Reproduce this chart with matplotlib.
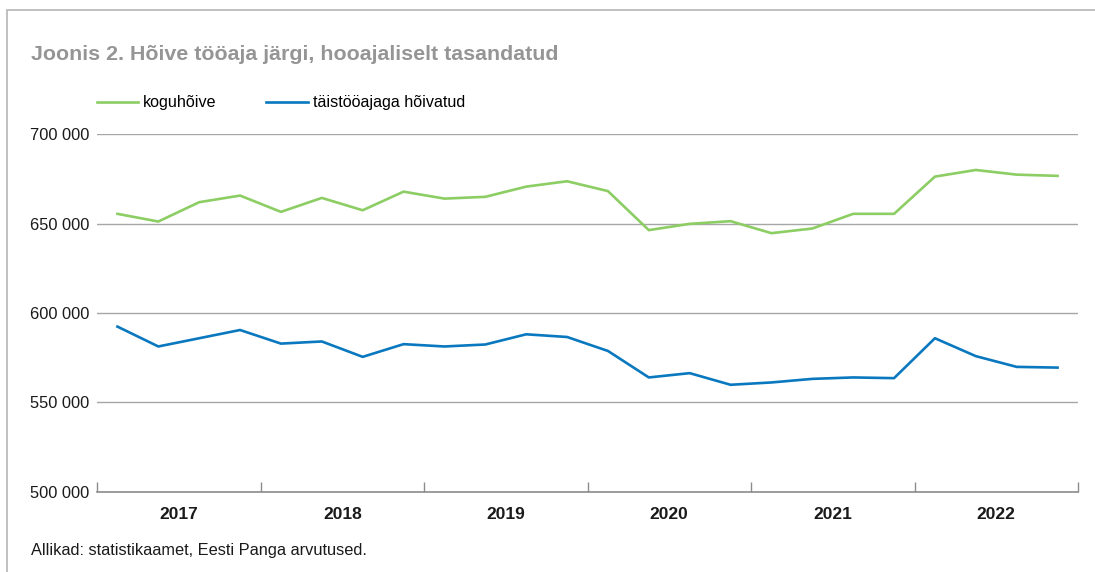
import matplotlib.pyplot as plt
from matplotlib.patches import Rectangle
from matplotlib.ticker import FuncFormatter

plt.rcParams['font.family'] = ['Liberation Sans', 'DejaVu Sans']

years = ['2017', '2018', '2019', '2020', '2021', '2022']
koguhoive = [655400, 651100, 661900, 665600, 656500, 664300, 657400, 667800,
             663900, 664900, 670600, 673600, 668100, 646300, 649800, 651300,
             644600, 647200, 655400, 655400, 676200, 679900, 677300, 676600]
taistooajaga = [592400, 581300, 585900, 590500, 582900, 584100, 575500, 582600,
                581300, 582400, 588100, 586600, 578800, 564000, 566400, 559900,
                561200, 563200, 564000, 563600, 585900, 575900, 569900, 569500]

fig = plt.figure(figsize=(10.95, 5.72), dpi=100)
ax = fig.add_axes([97 / 1095, 1 - 492 / 572, (1078 - 97) / 1095, (492 - 134) / 572])

# frame around the whole figure (right side runs off the picture)
fig.patches.append(Rectangle((7 / 1095, -0.1), 1.2, 1.1 - 10 / 572,
                             transform=fig.transFigure, fill=False,
                             edgecolor='#b5b5b5', linewidth=1.2))

x = list(range(len(koguhoive)))
ax.plot(x, koguhoive, color='#8ccd64', linewidth=1.9, label='koguhõive')
ax.plot(x, taistooajaga, color='#0a78bf', linewidth=1.9, label='täistööajaga hõivatud')

ax.set_xlim(-0.5, len(x) - 0.5)
ax.set_ylim(500000, 700000)
ax.set_yticks([500000, 550000, 600000, 650000, 700000])
ax.yaxis.set_major_formatter(FuncFormatter(lambda v, p: f'{int(v):,}'.replace(',', ' ')))
ax.grid(axis='y', color='#a6a6a6', linewidth=1.0)
ax.set_axisbelow(True)
for s in ['left', 'right', 'top']:
    ax.spines[s].set_visible(False)
ax.spines['bottom'].set_color('#8c8c8c')
ax.spines['bottom'].set_linewidth(1.2)
ax.tick_params(axis='y', length=0, labelsize=11.8, pad=5.5, colors='#1a1a1a')

# year boundaries as ticks, year names as minor labels
ax.set_xticks([i * 4 - 0.5 for i in range(len(years) + 1)])
ax.set_xticklabels([])
ax.set_xticks([i * 4 + 1.5 for i in range(len(years))], minor=True)
ax.set_xticklabels(years, minor=True, fontweight='bold', fontsize=12.5, color='#1a1a1a')
ax.tick_params(axis='x', which='major', direction='in', length=7, color='#8c8c8c', width=1)
ax.tick_params(axis='x', which='minor', length=0, pad=10.5)

fig.text(31 / 1095, 1 - 55 / 572, 'Joonis 2. Hõive tööaja järgi, hooajaliselt tasandatud',
         fontsize=15.4, fontweight='bold', color='#959595', va='center', ha='left')
fig.text(31 / 1095, 1 - 551 / 572, 'Allikad: statistikaamet, Eesti Panga arvutused.',
         fontsize=11.8, color='#1a1a1a', va='center', ha='left')

fig.legend(loc='center left', bbox_to_anchor=(90.5 / 1095, 1 - 103 / 572), ncol=2,
           frameon=False, fontsize=11.6, handlelength=2.55, handletextpad=0.31,
           columnspacing=3.1, borderaxespad=0)

fig.savefig('out.png', dpi=100)
